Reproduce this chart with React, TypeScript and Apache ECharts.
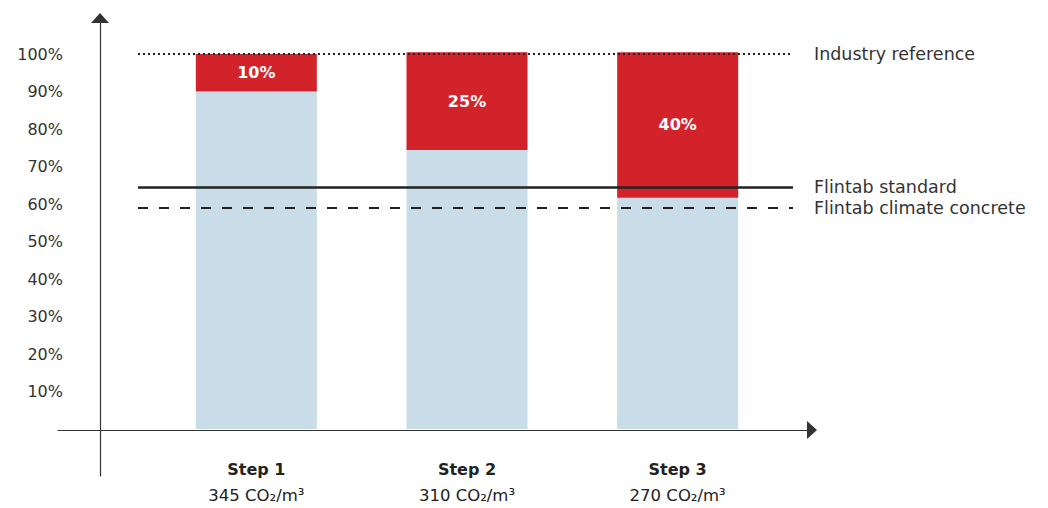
import React, { useEffect, useRef } from "react";
import * as echarts from "echarts";

const categories = ["Step 1", "Step 2", "Step 3"];
const co2Values = ["345", "310", "270"];
const baseValues = [90, 74.4, 61.7];
const reductionValues = [10, 26.1, 38.8];
const reductionLabels = ["10%", "25%", "40%"];
const refNames = ["Industry reference", "Flintab standard", "Flintab climate concrete"];
const refValues = [100, 64.6, 59.0];
const yMin = 0;
const yMax = 100;
const yInterval = 10;

const FONT = "DejaVu Sans";
const BLUE = "#C9DDE8";
const RED = "#D2232B";
const TEXT = "#333333";

export default function App() {
  const ref = useRef<HTMLDivElement>(null);

  useEffect(() => {
    document.body.style.margin = "0";
    if (!ref.current) return;
    const chart = echarts.init(ref.current, undefined, { renderer: "svg" });

    const refStyles = [
      { color: "#222", width: 2.2, type: [2, 3] },
      { color: "#222", width: 2.5, type: "solid" },
      { color: "#222", width: 2, type: [10, 11] },
    ];

    const axisLineStyle = {
      show: true,
      onZero: true,
      symbol: ["none", "triangle"],
      symbolSize: [18, 10],
      lineStyle: { color: "#333", width: 1.2 },
    };

    const option: any = {
      animation: false,
      textStyle: { fontFamily: FONT },
      grid: [
        { left: 151, right: 265, top: 54, bottom: 79 },
        { left: 138, right: 255, top: 54, bottom: 79 },
        { left: 58, right: 236, top: 18, bottom: 32 },
      ],
      xAxis: [
        {
          type: "category",
          gridIndex: 0,
          data: categories,
          axisLine: { show: false },
          axisTick: { show: false },
          axisLabel: {
            margin: 27,
            formatter: (value: string, index: number) =>
              `{b|${value}}\n{s|${co2Values[index]} CO₂/m³}`,
            rich: {
              b: { fontFamily: FONT, fontWeight: "bold", fontSize: 16, lineHeight: 26, color: "#222" },
              s: { fontFamily: FONT, fontSize: 16.5, lineHeight: 26, color: "#222" },
            },
          },
        },
        { type: "value", gridIndex: 1, min: 0, max: 1, show: false },
        {
          type: "value",
          gridIndex: 2,
          min: -42,
          max: 712,
          axisLine: axisLineStyle,
          axisTick: { show: false },
          axisLabel: { show: false },
          splitLine: { show: false },
        },
      ],
      yAxis: [
        {
          type: "value",
          gridIndex: 0,
          min: yMin,
          max: yMax,
          interval: yInterval,
          axisLine: { show: false },
          axisTick: { show: false },
          splitLine: { show: false },
          axisLabel: {
            margin: 88,
            fontSize: 16,
            color: TEXT,
            fontFamily: FONT,
            formatter: (v: number) => (v === 0 ? "" : `${v}%`),
          },
        },
        { type: "value", gridIndex: 1, min: yMin, max: yMax, show: false },
        {
          type: "value",
          gridIndex: 2,
          min: -46,
          max: 412,
          axisLine: axisLineStyle,
          axisTick: { show: false },
          axisLabel: { show: false },
          splitLine: { show: false },
        },
      ],
      series: [
        {
          type: "bar",
          xAxisIndex: 0,
          yAxisIndex: 0,
          stack: "total",
          barWidth: 121,
          clip: false,
          z: 2,
          data: baseValues,
          itemStyle: { color: BLUE },
          silent: true,
        },
        {
          type: "bar",
          xAxisIndex: 0,
          yAxisIndex: 0,
          stack: "total",
          barWidth: 121,
          clip: false,
          z: 2,
          data: reductionValues,
          itemStyle: { color: RED },
          silent: true,
          label: {
            show: true,
            position: "inside",
            formatter: (p: any) => reductionLabels[p.dataIndex],
            color: "#fff",
            fontWeight: "bold",
            fontSize: 16,
            fontFamily: FONT,
          },
        },
        {
          type: "line",
          xAxisIndex: 1,
          yAxisIndex: 1,
          data: [],
          z: 5,
          silent: true,
          markLine: {
            silent: true,
            symbol: "none",
            animation: false,
            data: refNames.map((name, i) => ({
              name,
              yAxis: refValues[i],
              lineStyle: refStyles[i],
            })),
            label: {
              show: true,
              position: "end",
              distance: 21,
              formatter: "{b}",
              color: TEXT,
              fontSize: 17.5,
              fontFamily: FONT,
            },
            emphasis: { disabled: true },
          },
        },
      ],
    };

    chart.setOption(option);
    return () => chart.dispose();
  }, []);

  return <div ref={ref} style={{ width: 1048, height: 508 }} />;
}
